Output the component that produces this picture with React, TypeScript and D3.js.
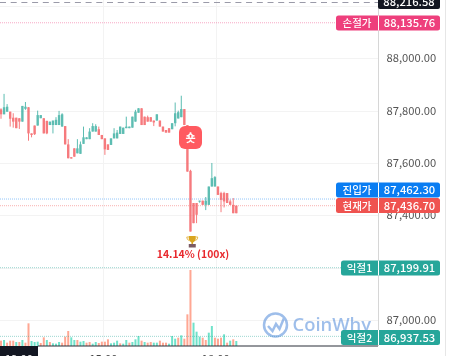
import React from "react";
import * as d3 from "d3";

const W = 462, H = 356;

// [open, high, low, close]
const candles: number[][] = [
  [87805, 87809, 87769, 87786],
  [87786, 87864, 87786, 87813],
  [87796, 87825, 87796, 87815],
  [87796, 87796, 87739, 87769],
  [87773, 87790, 87735, 87758],
  [87773, 87773, 87733, 87733],
  [87771, 87771, 87730, 87758],
  [87758, 87818, 87758, 87818],
  [87807, 87833, 87803, 87815],
  [87813, 87813, 87685, 87713],
  [87713, 87713, 87698, 87707],
  [87743, 87743, 87707, 87710],
  [87743, 87800, 87743, 87783],
  [87771, 87783, 87771, 87783],
  [87771, 87771, 87713, 87713],
  [87761, 87761, 87710, 87713],
  [87745, 87758, 87745, 87758],
  [87745, 87762, 87713, 87762],
  [87745, 87775, 87745, 87765],
  [87745, 87799, 87745, 87783],
  [87739, 87790, 87739, 87786],
  [87741, 87741, 87671, 87671],
  [87671, 87691, 87618, 87618],
  [87622, 87622, 87617, 87617],
  [87656, 87656, 87624, 87624],
  [87637, 87691, 87637, 87656],
  [87635, 87682, 87635, 87671],
  [87673, 87739, 87673, 87698],
  [87691, 87698, 87691, 87698],
  [87691, 87733, 87691, 87720],
  [87720, 87752, 87720, 87741],
  [87720, 87748, 87720, 87741],
  [87729, 87739, 87707, 87707],
  [87707, 87707, 87691, 87691],
  [87694, 87694, 87631, 87652],
  [87671, 87671, 87650, 87650],
  [87669, 87694, 87669, 87694],
  [87694, 87733, 87694, 87713],
  [87694, 87726, 87694, 87716],
  [87711, 87739, 87711, 87739],
  [87711, 87735, 87711, 87735],
  [87733, 87777, 87733, 87739],
  [87733, 87739, 87733, 87739],
  [87735, 87777, 87735, 87777],
  [87758, 87803, 87758, 87796],
  [87792, 87809, 87792, 87809],
  [87809, 87809, 87745, 87745],
  [87777, 87777, 87745, 87745],
  [87775, 87781, 87758, 87758],
  [87775, 87775, 87758, 87758],
  [87762, 87762, 87741, 87755],
  [87762, 87786, 87762, 87786],
  [87762, 87762, 87739, 87739],
  [87739, 87739, 87720, 87720],
  [87726, 87726, 87716, 87716],
  [87733, 87733, 87716, 87716],
  [87729, 87752, 87729, 87752],
  [87752, 87831, 87740, 87790],
  [87770, 87800, 87770, 87794],
  [87775, 87857, 87775, 87806],
  [87806, 87806, 87745, 87745],
  [87745, 87745, 87567, 87567],
  [87570, 87574, 87338, 87338],
  [87447, 87447, 87370, 87370],
  [87447, 87447, 87370, 87402],
  [87452, 87456, 87448, 87456],
  [87456, 87456, 87440, 87440],
  [87440, 87470, 87420, 87456],
  [87440, 87510, 87440, 87510],
  [87510, 87600, 87510, 87542],
  [87510, 87550, 87510, 87546],
  [87510, 87510, 87478, 87478],
  [87485, 87490, 87412, 87459],
  [87485, 87490, 87430, 87453],
  [87485, 87485, 87450, 87447],
  [87453, 87460, 87440, 87440],
  [87440, 87466, 87408, 87408],
  [87437, 87437, 87408, 87408],
];

const upVolumes = [
  0, 18, 0, 0, 0, 12, 0, 18, 0, 0, 15, 12, 13, 0, 0, 18, 0, 8, 7, 12, 0, 0, 0, 26, 18, 0, 13, 15, 0, 0, 7, 12, 0, 0, 0, 0, 8, 10, 16, 0, 7, 18, 0,
  12, 20, 30, 0, 12, 0, 0, 10, 10, 0, 0, 0, 7, 30, 22, 0, 32, 0, 0, 0, 70, 43, 28, 0, 0, 40, 60, 0, 0, 0, 35, 0, 16, 0, 15,
];
const downVolumes = [
  16, 0, 10, 16, 16, 0, 12, 0, 10, 68, 0, 0, 0, 9, 26, 0, 12, 0, 0, 0, 10, 28, 45, 0, 0, 18, 0, 0, 10, 12, 0, 0, 9, 13, 13, 20, 0, 0, 0, 8, 0, 0, 10,
  0, 0, 0, 16, 0, 10, 12, 0, 0, 16, 10, 10, 0, 0, 0, 25, 0, 22, 95, 228, 0, 0, 0, 25, 18, 0, 0, 25, 22, 25, 0, 10, 0, 20, 0,
];

const gridPrices = [88200, 88000, 87800, 87600, 87400, 87200, 87000];
const axisPrices = [88000, 87800, 87600, 87400, 87000];
const timeTicks = [{ i: 33.5, label: "15:00" }, { i: 70.3, label: "18:00" }];
const lineLabels = [
  { name: "손절가", value: 88135.76, color: "#ee3f7c", cy: 23, left: 336 },
  { name: "진입가", value: 87462.3, color: "#0a7df2", cy: 190, left: 336 },
  { name: "현재가", value: 87436.7, color: "#ef5350", cy: 205.5, left: 336 },
  { name: "익절1", value: 87199.91, color: "#26a69a", cy: 268, left: 341 },
  { name: "익절2", value: 86937.53, color: "#26a69a", cy: 337.5, left: 341 },
];

const FONT = "'Noto Sans CJK KR', 'Noto Sans', Roboto, sans-serif";
const fmt = d3.format(",.2f");

export default function App() {
  const y = d3.scaleLinear().domain([87000, 88000]).range([320, 58.3]);
  const x = d3.scaleLinear().domain([0, 77]).range([1, 236.3]);
  const v = d3.scaleLinear().domain([0, 228]).range([346, 270]);
  const trophyX = x(62) + 1.8;
  return (
    <svg
      width={W}
      height={H}
      style={{ position: "fixed", left: 0, top: 0, display: "block", background: "#fff" }}
      fontFamily={FONT}
    >
      <defs>
        <filter id="soft" x="-5%" y="-5%" width="110%" height="110%">
          <feGaussianBlur stdDeviation="0.4" />
        </filter>
      </defs>
      <rect width={W} height={H} fill="#fff" />
      {gridPrices.map((p) => (
        <line key={p} x1={0} x2={378} y1={Math.round(y(p)) + 0.5} y2={Math.round(y(p)) + 0.5} stroke="#f3f3f3" />
      ))}
      {timeTicks.map((t) => (
        <line key={t.label} x1={Math.round(x(t.i)) + 0.5} x2={Math.round(x(t.i)) + 0.5} y1={0} y2={346} stroke="#f3f3f3" />
      ))}
      <g filter="url(#soft)">
        {downVolumes.map((d, i) =>
          d ? <rect key={"d" + i} x={x(i) - 1} width={2} y={v(d)} height={346 - v(d)} fill="#ffa793" /> : null
        )}
        {upVolumes.map((d, i) =>
          d ? <rect key={"u" + i} x={x(i) - 1} width={2} y={v(d)} height={346 - v(d)} fill="#6fe2ca" /> : null
        )}
      </g>
      {lineLabels.map((l) => (
        <line
          key={l.name}
          x1={0}
          x2={l.left}
          y1={y(l.value)}
          y2={y(l.value)}
          stroke={l.color}
          strokeOpacity={0.45}
          strokeDasharray="1 1"
        />
      ))}
      <line x1={0} x2={378} y1={2.5} y2={2.5} stroke="#9a9aa8" strokeDasharray="6 4.7" />
      <g filter="url(#soft)">
        {candles.map(([o, h, l, c], i) => {
          const up = c >= o;
          const col = up ? "#35ad9f" : "#f4595d";
          const top = y(Math.max(o, c));
          const bot = y(Math.min(o, c));
          return (
            <g key={i} opacity={0.8}>
              <line x1={x(i)} x2={x(i)} y1={y(h)} y2={y(l)} stroke={col} strokeWidth={1} />
              <rect x={x(i) - 1.2} width={2.4} y={top} height={Math.max(1, bot - top)} fill={col} />
            </g>
          );
        })}
      </g>
      <rect x={179} y={126} width={23} height={23} rx={6} fill="#ff5a60" />
      <text x={190.5} y={141.5} textAnchor="middle" fontSize={11} fontWeight={700} fill="#fff">숏</text>
      <g transform={`translate(${trophyX},241)`}>
        <path d="M-3.5,-5 H3.5 V-2 Q3,1 0.8,1.5 V3 H-0.8 V1.5 Q-3,1 -3.5,-2 Z" fill="#d9a520" />
        <path d="M-3.5,-4 H-5.5 Q-5.5,-1 -3,-0.5 M3.5,-4 H5.5 Q5.5,-1 3,-0.5" fill="none" stroke="#e6b84a" />
        <rect x={-3.5} y={3} width={7} height={3.5} fill="#7b5a63" />
      </g>
      <text x={193} y={258} textAnchor="middle" fontSize={10.4} fontWeight={700} fill="#e8282d">14.14% (100x)</text>
      <g opacity={0.5}>
        <circle cx={275.5} cy={325} r={11.5} fill="none" stroke="#3f7fd6" strokeWidth={2.5} />
        <path d="M268,326 L272.5,331 L276,324 L279.5,329 L284,318" fill="none" stroke="#3f7fd6" strokeWidth={2.5} />
        <text x={292.5} y={331} fontSize={18.4} fontWeight={600} fontFamily="'Open Sans', sans-serif" fill="#3f7fd6">CoinWhy</text>
      </g>
      <line x1={378.5} x2={378.5} y1={0} y2={346} stroke="#d6d6d6" />
      <line x1={445.5} x2={445.5} y1={0} y2={H} stroke="#e6e6e6" />
      <line x1={38} x2={378} y1={346} y2={346} stroke="#2a2e39" strokeWidth={1.2} />
      {axisPrices.map((p) => (
        <text key={p} x={386.5} y={y(p) + 4} fontSize={11.2} fill="#555">{fmt(p)}</text>
      ))}
      <rect x={378} y={-6} width={62} height={15} rx={2} fill="#131722" />
      <text x={409} y={6} textAnchor="middle" fontSize={11.2} fontWeight={500} fill="#fff">88,216.58</text>
      {lineLabels.map((l) => (
        <g key={l.name + "lbl"}>
          <rect x={l.left} y={l.cy - 7.5} width={378 - l.left + 62} height={15} rx={2.5} fill={l.color} />
          <line x1={378.5} x2={378.5} y1={l.cy - 7.5} y2={l.cy + 7.5} stroke="#fff" />
          <text x={(l.left + 378) / 2} y={l.cy + 4} textAnchor="middle" fontSize={10.5} fontWeight={500} fill="#fff">{l.name}</text>
          <text x={409.5} y={l.cy + 4} textAnchor="middle" fontSize={11.2} fontWeight={500} fill="#fff">{fmt(l.value)}</text>
        </g>
      ))}
      <rect x={0} y={346} width={38} height={10} fill="#131722" />
      <text x={19} y={362.5} textAnchor="middle" fontSize={11.2} fill="#fff">12:00</text>
      {timeTicks.map((t) => (
        <text key={t.label + "t"} x={x(t.i)} y={362.5} textAnchor="middle" fontSize={11.2} fill="#444">{t.label}</text>
      ))}
    </svg>
  );
}
